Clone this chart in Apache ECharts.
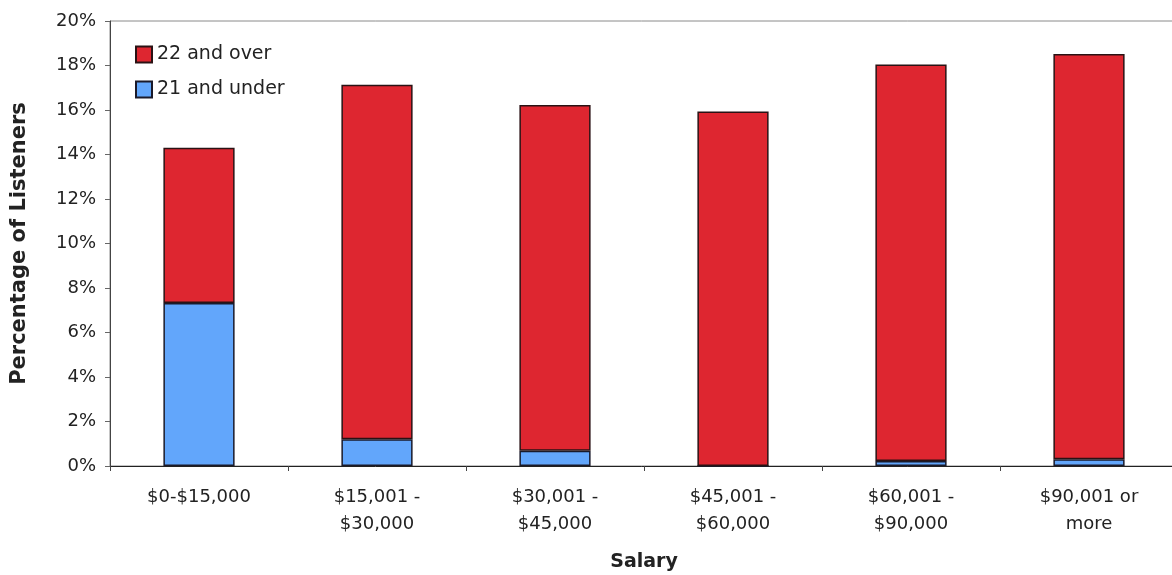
<!DOCTYPE html>
<html>
<head>
<meta charset="utf-8">
<title>Listeners by salary</title>
<script src="https://cdn.jsdelivr.net/npm/echarts@6/dist/echarts.min.js"></script>
<style>
  html, body { margin: 0; padding: 0; background: #fff; }
  #chart { width: 1172px; height: 575px; }
</style>
</head>
<body>
<div id="chart"></div>
<script>
// salary bands (x axis)
const categories = [
  "$0-$15,000",
  "$15,001 -\n$30,000",
  "$30,001 -\n$45,000",
  "$45,001 -\n$60,000",
  "$60,001 -\n$90,000",
  "$90,001 or\nmore"
];
// percentage of listeners, stacked: under 22 at the bottom
const under21 = [7.33, 1.2, 0.69, 0, 0.22, 0.3];
const over22 = [6.97, 15.93, 15.54, 15.93, 17.82, 18.22];
const yTicks = [0, 2, 4, 6, 8, 10, 12, 14, 16, 18, 20];

const font = "DejaVu Sans, Verdana, sans-serif";

const chart = echarts.init(document.getElementById("chart"));
const option = {
  backgroundColor: "#fff",
  animation: false,
  textStyle: { fontFamily: font, color: "#222" },
  grid: {
    left: 110,
    top: 21,
    right: -6,
    bottom: 109,
    containLabel: false,
    outerBoundsMode: "none",
    show: true,
    borderColor: "#8a8a8a",
    borderWidth: 1,
    backgroundColor: "#fff"
  },
  legend: {
    data: ["22 and over", "21 and under"],
    orient: "vertical",
    left: 130,
    top: 40,
    itemWidth: 16,
    itemHeight: 16,
    itemGap: 16,
    icon: "rect",
    textStyle: { fontFamily: font, fontSize: 19, color: "#222" }
  },
  xAxis: {
    type: "category",
    data: categories,
    name: "Salary",
    nameLocation: "middle",
    nameGap: 87,
    nameTextStyle: { fontFamily: font, fontSize: 19, fontWeight: "bold", color: "#222" },
    axisLine: { lineStyle: { color: "#222", width: 1 } },
    axisTick: { show: true, length: 5, lineStyle: { color: "#444" } },
    axisLabel: {
      interval: 0,
      fontFamily: font,
      fontSize: 18,
      color: "#222",
      lineHeight: 27,
      margin: 18
    }
  },
  yAxis: {
    type: "value",
    min: 0,
    max: 20,
    interval: 2,
    name: "Percentage of Listeners",
    nameLocation: "middle",
    nameGap: 80,
    nameTextStyle: { fontFamily: font, fontSize: 21, fontWeight: "bold", color: "#222" },
    axisLine: { show: true, lineStyle: { color: "#444", width: 1 } },
    axisTick: { show: true, length: 5, lineStyle: { color: "#666" } },
    splitLine: { show: false },
    axisLabel: {
      fontFamily: font,
      fontSize: 18,
      color: "#222",
      margin: 14,
      formatter: function (v) {
        return yTicks.indexOf(v) >= 0 ? v + "%" : "";
      }
    }
  },
  series: [
    {
      name: "21 and under",
      type: "bar",
      stack: "total",
      barWidth: "40%",
      data: under21,
      itemStyle: { color: "#62a6fb", borderColor: "#1a1a2a", borderWidth: 1.5 }
    },
    {
      name: "22 and over",
      type: "bar",
      stack: "total",
      barWidth: "40%",
      data: over22,
      itemStyle: { color: "#de2630", borderColor: "#2a1214", borderWidth: 1.5 }
    }
  ]
};
chart.setOption(option);
window.addEventListener("resize", function () {
  chart.resize();
});
</script>
</body>
</html>
